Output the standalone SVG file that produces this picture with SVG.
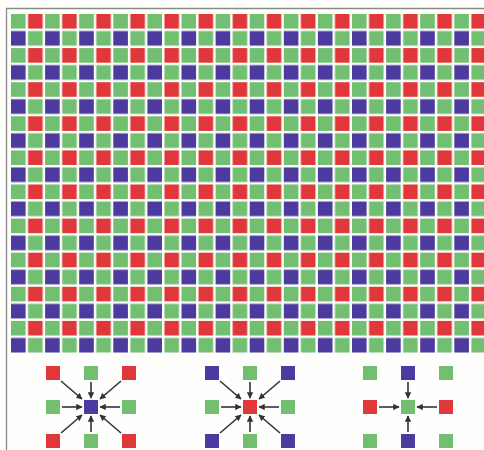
<svg xmlns="http://www.w3.org/2000/svg" width="484" height="450" viewBox="0 0 484 450">
<style>
.r{fill:#e0383a}
.g{fill:#72bf72}
.b{fill:#4d3a9e}
.frame{stroke:#8a8a8a;stroke-width:1.3;fill:none}
.arr{stroke:#333;stroke-width:1.6;fill:none;marker-end:url(#ah)}
</style>
<defs>
<marker id="ah" viewBox="0 0 10 10" refX="9" refY="5" markerWidth="4" markerHeight="4" orient="auto" markerUnits="strokeWidth">
<path d="M0,0 L10,5 L0,10 z" fill="#333"/>
</marker>
<pattern id="bayer" patternUnits="userSpaceOnUse" x="11" y="14" width="34.1" height="34.1">
<rect class="g" x="0" y="0" width="14.6" height="14.6"/>
<rect class="r" x="17.05" y="0" width="14.6" height="14.6"/>
<rect class="b" x="0" y="17.05" width="14.6" height="14.6"/>
<rect class="g" x="17.05" y="17.05" width="14.6" height="14.6"/>
</pattern>
</defs>
<rect x="0" y="0" width="484" height="450" fill="#fefefc"/>
<g id="frame">
<path class="frame" d="M6.5,450 V8.5 H484"/>
</g>
<g id="mosaic">
<rect x="11" y="14" width="473" height="339" fill="url(#bayer)"/>
</g>
<g id="demosaic-blue">
<rect class="r" x="46" y="366" width="14" height="14"/>
<rect class="g" x="84" y="366" width="14" height="14"/>
<rect class="r" x="122" y="366" width="14" height="14"/>
<rect class="g" x="46" y="400" width="14" height="14"/>
<rect class="b" x="84" y="400" width="14" height="14"/>
<rect class="g" x="122" y="400" width="14" height="14"/>
<rect class="r" x="46" y="434" width="14" height="14"/>
<rect class="g" x="84" y="434" width="14" height="14"/>
<rect class="r" x="122" y="434" width="14" height="14"/>
</g>
<g id="demosaic-red">
<rect class="b" x="205" y="366" width="14" height="14"/>
<rect class="g" x="243" y="366" width="14" height="14"/>
<rect class="b" x="281" y="366" width="14" height="14"/>
<rect class="g" x="205" y="400" width="14" height="14"/>
<rect class="r" x="243" y="400" width="14" height="14"/>
<rect class="g" x="281" y="400" width="14" height="14"/>
<rect class="b" x="205" y="434" width="14" height="14"/>
<rect class="g" x="243" y="434" width="14" height="14"/>
<rect class="b" x="281" y="434" width="14" height="14"/>
</g>
<g id="demosaic-green">
<rect class="g" x="363" y="366" width="14" height="14"/>
<rect class="b" x="401" y="366" width="14" height="14"/>
<rect class="g" x="439" y="366" width="14" height="14"/>
<rect class="r" x="363" y="400" width="14" height="14"/>
<rect class="g" x="401" y="400" width="14" height="14"/>
<rect class="r" x="439" y="400" width="14" height="14"/>
<rect class="g" x="363" y="434" width="14" height="14"/>
<rect class="b" x="401" y="434" width="14" height="14"/>
<rect class="g" x="439" y="434" width="14" height="14"/>
</g>
<g id="connectors">
<line class="arr" x1="62" y1="407" x2="82" y2="407"/>
<line class="arr" x1="120" y1="407" x2="100" y2="407"/>
<line class="arr" x1="91" y1="382" x2="91" y2="398"/>
<line class="arr" x1="91" y1="432" x2="91" y2="416"/>
<line class="arr" x1="61" y1="381" x2="82" y2="399"/>
<line class="arr" x1="121" y1="381" x2="100" y2="399"/>
<line class="arr" x1="61" y1="433" x2="82" y2="415"/>
<line class="arr" x1="121" y1="433" x2="100" y2="415"/>
<line class="arr" x1="221" y1="407" x2="241" y2="407"/>
<line class="arr" x1="279" y1="407" x2="259" y2="407"/>
<line class="arr" x1="250" y1="382" x2="250" y2="398"/>
<line class="arr" x1="250" y1="432" x2="250" y2="416"/>
<line class="arr" x1="220" y1="381" x2="241" y2="399"/>
<line class="arr" x1="280" y1="381" x2="259" y2="399"/>
<line class="arr" x1="220" y1="433" x2="241" y2="415"/>
<line class="arr" x1="280" y1="433" x2="259" y2="415"/>
<line class="arr" x1="379" y1="407" x2="399" y2="407"/>
<line class="arr" x1="437" y1="407" x2="417" y2="407"/>
<line class="arr" x1="408" y1="382" x2="408" y2="398"/>
<line class="arr" x1="408" y1="432" x2="408" y2="416"/>
</g>
</svg>
